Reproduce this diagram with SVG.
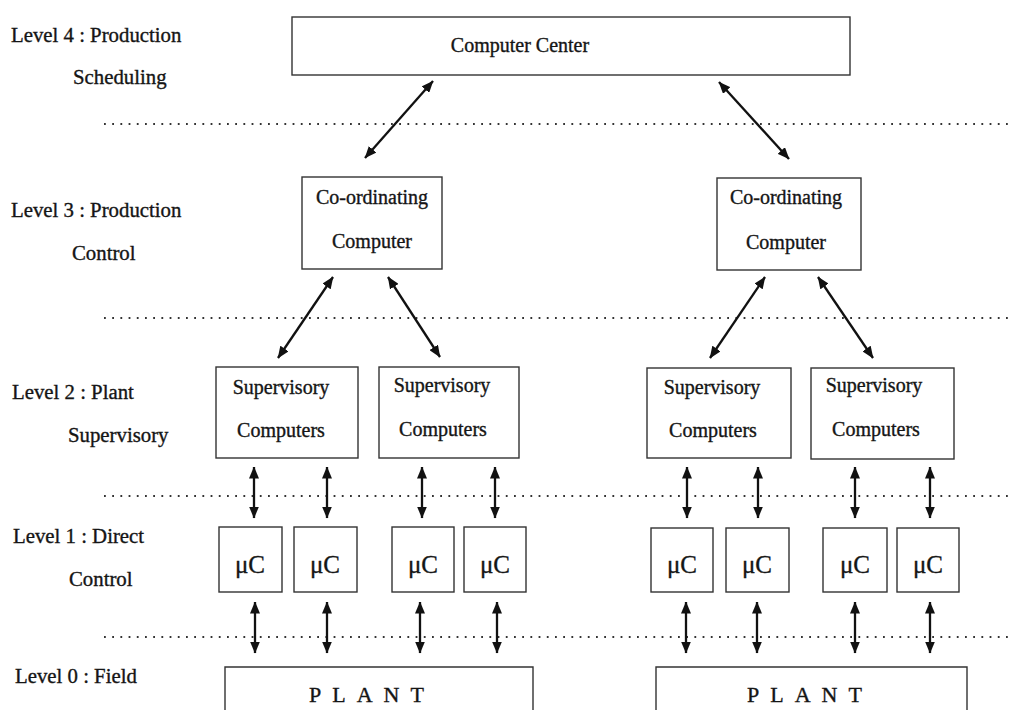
<svg xmlns="http://www.w3.org/2000/svg" width="1012" height="710" viewBox="0 0 1012 710">
  <style>
    text { font-family: "Liberation Serif", "Times New Roman", serif; font-size: 20px; fill: #151515; stroke: #151515; stroke-width: 0.35; }
    .box { fill: #ffffff; stroke: #333333; stroke-width: 1.4; }
    .lvl { text-anchor: start; font-size: 20.8px; }
    .mid { text-anchor: middle; }
    .uc { font-size: 25px; text-anchor: middle; }
    .plant { letter-spacing: 11px; font-size: 22px; }
    .sep { stroke: #333333; stroke-width: 1.8; stroke-dasharray: 1.8 6.4; fill: none; }
    .link { stroke: #111111; stroke-width: 2.3; fill: none; marker-start: url(#head); marker-end: url(#head); }
  </style>
  <defs>
    <marker id="head" viewBox="0 0 12 10" refX="11.5" refY="5" markerWidth="12" markerHeight="10" markerUnits="userSpaceOnUse" orient="auto-start-reverse">
      <path d="M0,0 L12,5 L0,10 z" fill="#111111"/>
    </marker>
  </defs>

  <rect width="1012" height="710" fill="#ffffff"/>

  <!-- level labels -->
  <g id="level-labels">
    <text class="lvl" x="11" y="42">Level 4 : Production</text>
    <text class="lvl" x="73" y="84">Scheduling</text>
    <text class="lvl" x="11" y="217">Level 3 : Production</text>
    <text class="lvl" x="72" y="260">Control</text>
    <text class="lvl" x="12" y="399">Level 2 : Plant</text>
    <text class="lvl" x="68" y="442">Supervisory</text>
    <text class="lvl" x="13" y="543">Level 1 : Direct</text>
    <text class="lvl" x="69" y="586">Control</text>
    <text class="lvl" x="15" y="683">Level 0 : Field</text>
  </g>

  <!-- level separators -->
  <g id="separators">
    <line class="sep" x1="104" y1="124" x2="1010" y2="124"/>
    <line class="sep" x1="104" y1="318" x2="1010" y2="318"/>
    <line class="sep" x1="104" y1="496" x2="1010" y2="496"/>
    <line class="sep" x1="104" y1="637" x2="1010" y2="637"/>
  </g>

  <!-- level 4 -->
  <g id="computer-center">
    <rect class="box" x="292" y="17" width="558" height="58"/>
    <text class="mid" x="520" y="52">Computer Center</text>
  </g>

  <!-- level 3 -->
  <g id="coord-left">
    <rect class="box" x="302" y="177" width="140" height="92"/>
    <text class="mid" x="372" y="204">Co-ordinating</text>
    <text class="mid" x="372" y="248">Computer</text>
  </g>
  <g id="coord-right">
    <rect class="box" x="717" y="178" width="144" height="92"/>
    <text class="mid" x="786" y="204">Co-ordinating</text>
    <text class="mid" x="786" y="249">Computer</text>
  </g>

  <!-- level 2 -->
  <g id="sup-1">
    <rect class="box" x="216" y="367" width="142" height="91"/>
    <text class="mid" x="281" y="394">Supervisory</text>
    <text class="mid" x="281" y="437">Computers</text>
  </g>
  <g id="sup-2">
    <rect class="box" x="379" y="367" width="140" height="91"/>
    <text class="mid" x="442" y="392">Supervisory</text>
    <text class="mid" x="443" y="436">Computers</text>
  </g>
  <g id="sup-3">
    <rect class="box" x="647" y="368" width="144" height="90"/>
    <text class="mid" x="712" y="394">Supervisory</text>
    <text class="mid" x="713" y="437">Computers</text>
  </g>
  <g id="sup-4">
    <rect class="box" x="811" y="368" width="143" height="91"/>
    <text class="mid" x="874" y="392">Supervisory</text>
    <text class="mid" x="876" y="436">Computers</text>
  </g>

  <!-- level 1 -->
  <g id="uc-1"><rect class="box" x="219" y="527" width="63" height="65"/><text class="uc" x="250" y="573">μC</text></g>
  <g id="uc-2"><rect class="box" x="294" y="527" width="63" height="65"/><text class="uc" x="325" y="573">μC</text></g>
  <g id="uc-3"><rect class="box" x="392" y="527" width="62" height="65"/><text class="uc" x="423" y="573">μC</text></g>
  <g id="uc-4"><rect class="box" x="464" y="527" width="62" height="65"/><text class="uc" x="495" y="573">μC</text></g>
  <g id="uc-5"><rect class="box" x="651" y="528" width="62" height="64"/><text class="uc" x="682" y="573">μC</text></g>
  <g id="uc-6"><rect class="box" x="726" y="528" width="63" height="64"/><text class="uc" x="757" y="573">μC</text></g>
  <g id="uc-7"><rect class="box" x="823" y="528" width="64" height="64"/><text class="uc" x="855" y="573">μC</text></g>
  <g id="uc-8"><rect class="box" x="897" y="528" width="62" height="64"/><text class="uc" x="928" y="573">μC</text></g>

  <!-- level 0 -->
  <g id="plant-left">
    <path class="box" d="M225,712 V667 H533 V712"/>
    <text class="plant" x="309" y="702">PLANT</text>
  </g>
  <g id="plant-right">
    <path class="box" d="M656,712 V667 H967 V712"/>
    <text class="plant" x="747" y="702">PLANT</text>
  </g>

  <!-- connectors -->
  <g id="connectors">
    <line class="link" x1="433" y1="81" x2="365" y2="158"/>
    <line class="link" x1="719" y1="82" x2="789" y2="159"/>

    <line class="link" x1="333" y1="277" x2="278" y2="358"/>
    <line class="link" x1="388" y1="277" x2="440" y2="357"/>
    <line class="link" x1="765" y1="277" x2="710" y2="358"/>
    <line class="link" x1="818" y1="277" x2="873" y2="358"/>

    <line class="link" x1="254" y1="467" x2="254" y2="518"/>
    <line class="link" x1="327" y1="467" x2="327" y2="518"/>
    <line class="link" x1="422" y1="467" x2="422" y2="518"/>
    <line class="link" x1="495" y1="467" x2="495" y2="518"/>
    <line class="link" x1="687" y1="467" x2="687" y2="518"/>
    <line class="link" x1="758" y1="467" x2="758" y2="518"/>
    <line class="link" x1="855" y1="467" x2="855" y2="518"/>
    <line class="link" x1="930" y1="467" x2="930" y2="518"/>

    <line class="link" x1="255" y1="602" x2="255" y2="653"/>
    <line class="link" x1="327" y1="602" x2="327" y2="653"/>
    <line class="link" x1="420" y1="602" x2="420" y2="653"/>
    <line class="link" x1="497" y1="602" x2="497" y2="653"/>
    <line class="link" x1="686" y1="602" x2="686" y2="653"/>
    <line class="link" x1="757" y1="602" x2="757" y2="653"/>
    <line class="link" x1="855" y1="602" x2="855" y2="653"/>
    <line class="link" x1="930" y1="602" x2="930" y2="653"/>
  </g>
</svg>
